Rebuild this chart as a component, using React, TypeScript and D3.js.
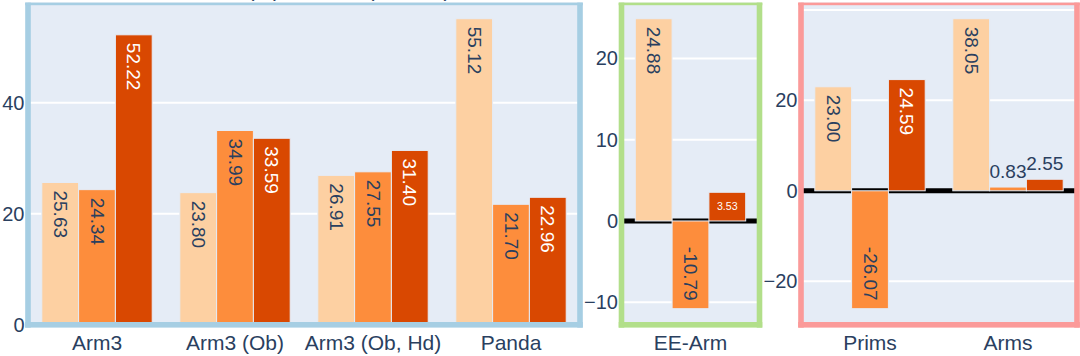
import React from 'react';
import * as d3 from 'd3';

// ---- data ----
const seriesColors = ['#fdd0a2', '#fd8d3c', '#d94801'];

const armCategories = ['Arm3', 'Arm3 (Ob)', 'Arm3 (Ob, Hd)', 'Panda'];
const armLight = [25.63, 23.8, 26.91, 55.12];
const armMid = [24.34, 34.99, 27.55, 21.7];
const armDark = [52.22, 33.59, 31.4, 22.96];
const armGridTicks = [0, 20, 40];
const armLabelTicks = [0, 20, 40];

const eeCategories = ['EE-Arm'];
const eeLight = [24.88];
const eeMid = [-10.79];
const eeDark = [3.53];
const eeGridTicks = [-10, 0, 10, 20];
const eeLabelTicks = [-10, 0, 10, 20];

const transferCategories = ['Prims', 'Arms'];
const transferLight = [23.0, 38.05];
const transferMid = [-26.07, 0.83];
const transferDark = [24.59, 2.55];
const transferGridTicks = [-20, 0, 20, 40];
const transferLabelTicks = [-20, 0, 20];

const titleText = 'Success Rate (%) Relative (Median)';

// ---- styling ----
const FONT = '"Liberation Sans", Arial, Helvetica, sans-serif';
const TEXT_COLOR = '#2a3f5f';
const PLOT_BG = '#e5ecf6';
const Y0 = 2.6;
const Y1 = 324.8;
const BAR_FS = 19;

type PanelDef = {
  cats: string[];
  series: number[][];
  x0: number;
  x1: number;
  border: string;
  gridTicks: number[];
  labelTicks: number[];
};

const panels: PanelDef[] = [
  { cats: armCategories, series: [armLight, armMid, armDark], x0: 28, x1: 580, border: '#a6cee3', gridTicks: armGridTicks, labelTicks: armLabelTicks },
  { cats: eeCategories, series: [eeLight, eeMid, eeDark], x0: 621.5, x1: 759.5, border: '#b2df8a', gridTicks: eeGridTicks, labelTicks: eeLabelTicks },
  { cats: transferCategories, series: [transferLight, transferMid, transferDark], x0: 801, x1: 1077, border: '#fb9a99', gridTicks: transferGridTicks, labelTicks: transferLabelTicks },
];

function emWidth(s: string) {
  let w = 0;
  for (const c of s) w += c === '.' ? 0.278 : c === '-' ? 0.333 : 0.556;
  return w;
}

const fmtTick = d3.format('d');

function Panel({ p }: { p: PanelDef }) {
  const x = d3.scaleBand<string>().domain(p.cats).range([p.x0, p.x1]).paddingInner(0.2).paddingOuter(0.1);
  const xs = d3.scaleBand<number>().domain(d3.range(p.series.length)).range([0, x.bandwidth()]);
  const all = p.series.flat();
  const lo = Math.min(0, d3.min(all) as number);
  const hi = Math.max(0, d3.max(all) as number);
  let domain: [number, number];
  if (lo < 0) {
    const pad = ((hi - lo) / 0.9) * 0.05;
    domain = [lo - pad, hi + pad];
  } else {
    domain = [0, hi / 0.95];
  }
  const y = d3.scaleLinear().domain(domain).range([Y1, Y0]);
  const bw = xs.bandwidth();

  const bars: any[] = [];
  const labels: any[] = [];
  p.series.forEach((vals, i) => {
    vals.forEach((v, j) => {
      const bx = (x(p.cats[j]) as number) + (xs(i) as number);
      const top = y(Math.max(0, v));
      const bottom = y(Math.min(0, v));
      bars.push(
        <rect key={`b${i}-${j}`} x={bx} y={top} width={bw} height={bottom - top}
          fill={seriesColors[i]} stroke={PLOT_BG} strokeWidth={1} />
      );
      const txt = v.toFixed(2);
      const L = bottom - top;
      const len = emWidth(txt) * BAR_FS;
      const cx = bx + bw / 2;
      const inColor = i === 2 ? '#ffffff' : TEXT_COLOR;
      if (len + 16 <= L) {
        const ay = v >= 0 ? top + 8 : bottom - 8;
        labels.push(
          <text key={`t${i}-${j}`} transform={`translate(${cx},${ay}) rotate(90)`}
            textAnchor={v >= 0 ? 'start' : 'end'} dominantBaseline="central"
            fontSize={BAR_FS} fill={inColor}>{txt}</text>
        );
      } else if (L >= 20) {
        const sfs = (L - 8) / emWidth(txt);
        labels.push(
          <text key={`t${i}-${j}`} x={cx} y={(top + bottom) / 2 - 1} textAnchor="middle"
            dominantBaseline="central" fontSize={sfs} fill={inColor}>{txt}</text>
        );
      } else {
        const ty = v >= 0 ? top - 9 : bottom + 9 + BAR_FS * 0.7;
        labels.push(
          <text key={`t${i}-${j}`} x={cx} y={ty} textAnchor="middle"
            fontSize={BAR_FS} fill={TEXT_COLOR}>{txt}</text>
        );
      }
    });
  });

  const bwid = 5.6;
  const h = bwid / 2;
  return (
    <g>
      <rect x={p.x0} y={Y0} width={p.x1 - p.x0} height={Y1 - Y0} fill={PLOT_BG} />
      {p.gridTicks.filter(t => t >= domain[0] && t <= domain[1]).map(t => (
        <line key={`g${t}`} x1={p.x0} x2={p.x1} y1={y(t)} y2={y(t)} stroke="#ffffff" strokeWidth={2} />
      ))}
      {lo < 0 && (
        <line x1={p.x0} x2={p.x1} y1={y(0)} y2={y(0)} stroke="#000000" strokeWidth={5} />
      )}
      {bars}
      {/* border */}
      <rect x={p.x0 - h} y={Y0} width={bwid} height={Y1 + h - Y0} fill={p.border} />
      <rect x={p.x1 - h} y={Y0} width={bwid} height={Y1 + h - Y0} fill={p.border} />
      <rect x={p.x0 - h} y={Y1 - h} width={p.x1 - p.x0 + bwid} height={bwid} fill={p.border} />
      <rect x={p.x0 - h} y={Y0} width={p.x1 - p.x0 + bwid} height={2.6} fill={p.border} />
      {labels}
      {p.labelTicks.map(t => (
        <text key={`yl${t}`} x={p.x0 - 3.5} y={y(t)} textAnchor="end" dominantBaseline="central"
          fontSize={20} fill={TEXT_COLOR}>{fmtTick(t)}</text>
      ))}
      {p.cats.map(c => (
        <text key={`xl${c}`} x={(x(c) as number) + x.bandwidth() / 2} y={350} textAnchor="middle"
          fontSize={21} fill={TEXT_COLOR}>{c}</text>
      ))}
    </g>
  );
}

export default function App() {
  return (
    <svg width={1080} height={356} viewBox="0 0 1080 356"
      style={{ position: 'fixed', left: 0, top: 0, background: '#ffffff', fontFamily: FONT, overflow: 'hidden' }}>
      <rect x={0} y={0} width={1080} height={356} fill="#ffffff" />
      <text x={112} y={-3.5} fontSize={21} fill={TEXT_COLOR}>{titleText}</text>
      {panels.map((p, k) => <Panel key={k} p={p} />)}
    </svg>
  );
}
